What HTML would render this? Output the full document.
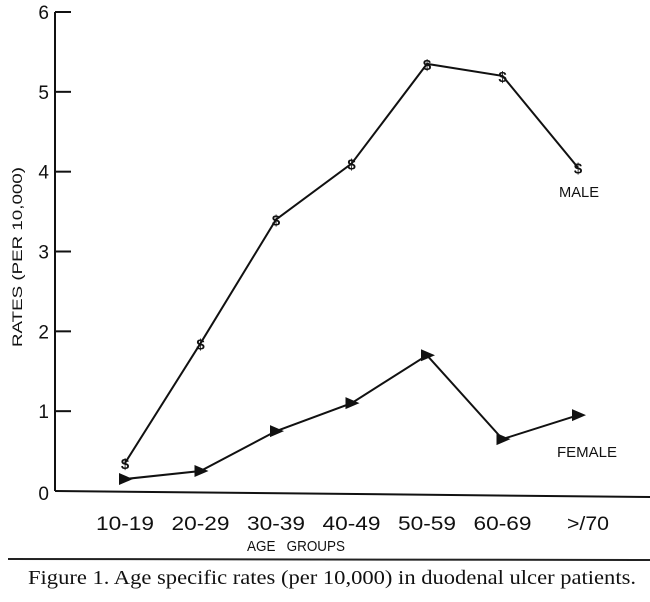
<!DOCTYPE html>
<html><head><meta charset="utf-8"><style>
body{margin:0;background:#fff;}
svg{display:block;}
text{font-family:"Liberation Sans",sans-serif;fill:#111;}
</style></head><body>
<svg id="chart" width="650" height="602" viewBox="0 0 650 602" xmlns="http://www.w3.org/2000/svg">
<g id="axes"></g>
<g id="series"></g>
<text x="559" y="197" font-size="15" textLength="40" lengthAdjust="spacingAndGlyphs">MALE</text>
<text x="557" y="457" font-size="15" textLength="60" lengthAdjust="spacingAndGlyphs">FEMALE</text>
<text x="296" y="551" font-size="15" text-anchor="middle" textLength="98" lengthAdjust="spacingAndGlyphs">AGE&#160;&#160;&#160;GROUPS</text>
<text transform="translate(22,257) rotate(-90)" font-size="14" text-anchor="middle" textLength="180" lengthAdjust="spacingAndGlyphs">RATES (PER 10,000)</text>
<line x1="8" y1="559" x2="650" y2="560" stroke="#222" stroke-width="2"/>
<text x="332" y="584" font-size="20" text-anchor="middle" textLength="608" lengthAdjust="spacingAndGlyphs" style="font-family:'Liberation Serif',serif">Figure 1. Age specific rates (per 10,000) in duodenal ulcer patients.</text>
</svg>
<script>
const categories=["10-19","20-29","30-39","40-49","50-59","60-69",">/70"];
const maleValues=[0.35,1.85,3.4,4.1,5.35,5.2,4.05];
const femaleValues=[0.15,0.25,0.75,1.1,1.7,0.65,0.95];
const yTicks=[0,1,2,3,4,5,6];
const NS="http://www.w3.org/2000/svg";
const x0=55,y0=491,yTop=12;
function yScale(v){return y0-(v/6)*(y0-yTop);}
function xScale(i){return 125+i*75.5;}
function mk(tag,attrs,parent){const e=document.createElementNS(NS,tag);for(const k in attrs)e.setAttribute(k,attrs[k]);parent.appendChild(e);return e;}
const axes=document.getElementById('axes');
let a=mk('line',{x1:x0,y1:yTop,x2:x0,y2:y0,stroke:'#111','stroke-width':2},axes);


a=mk('line',{x1:x0,y1:y0,x2:650,y2:497,stroke:'#111','stroke-width':2},axes);


yTicks.forEach(t=>{
  const y=yScale(t);
  if(t>0){const l=mk('line',{x1:x0,y1:y,x2:x0+16,y2:y,stroke:'#111','stroke-width':2},axes);
  
  }
  const tx=mk('text',{x:x0-6,y:y+(t===0?9:7),'font-size':19,'text-anchor':'end'},axes);
  tx.textContent=t;
  
  
});
categories.forEach((c,i)=>{
  const tx=mk('text',{x:xScale(i)+(i===6?10:0),y:530,'font-size':19,'text-anchor':'middle',textLength:(i===6?42:58),lengthAdjust:'spacingAndGlyphs'},axes);
  tx.textContent=c;
  
  
});
const series=document.getElementById('series');
function drawLine(vals,name,marker){
  const pts=vals.map((v,i)=>xScale(i)+','+yScale(v)).join(' ');
  const pl=mk('polyline',{points:pts,fill:'none',stroke:'#111','stroke-width':2},series);
  
  
  vals.forEach((v,i)=>{
    const x=xScale(i),y=yScale(v);let m;
    if(marker==='s'){m=mk('text',{x:x,y:y+6,'font-size':15,'font-weight':'bold','text-anchor':'middle'},series);m.textContent='$';}
    else{m=mk('polygon',{points:(x-6)+','+(y-6)+' '+(x+8)+','+y+' '+(x-6)+','+(y+6),fill:'#111'},series);}
    
    
  });
}
drawLine(maleValues,'male','s');
drawLine(femaleValues,'female','t');
</script>
</body></html>
